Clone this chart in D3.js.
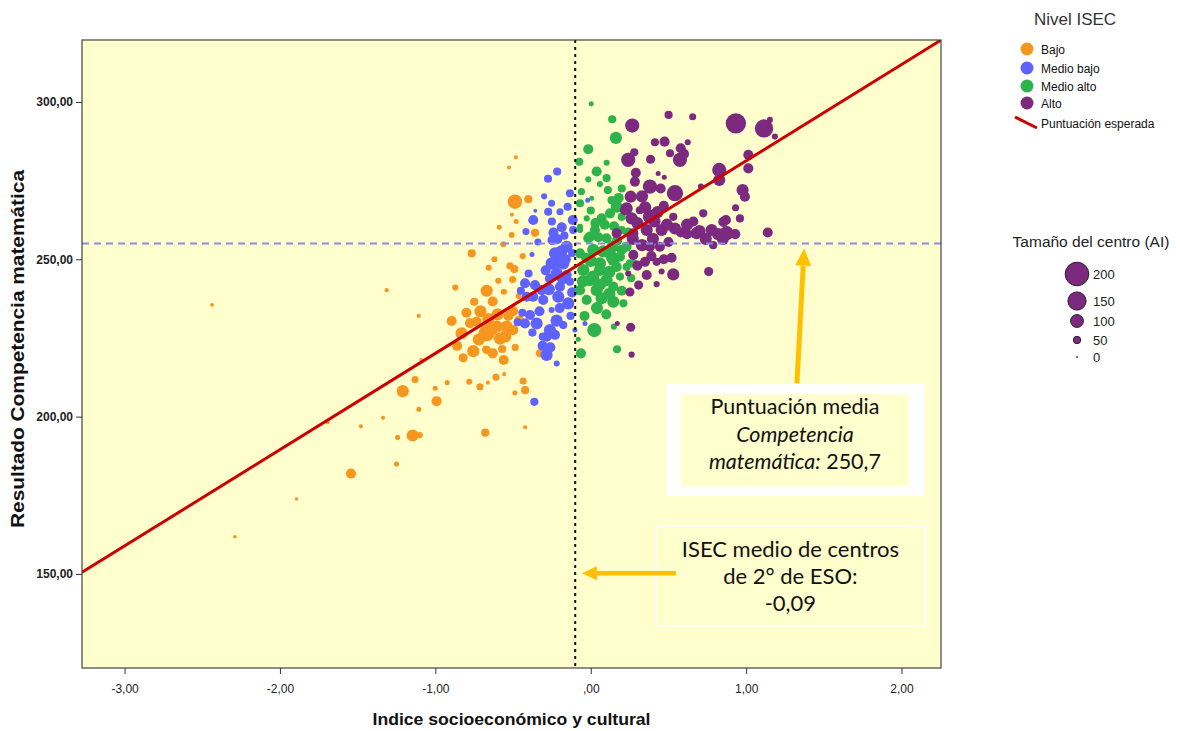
<!DOCTYPE html>
<html><head><meta charset="utf-8">
<script src="https://cdn.jsdelivr.net/npm/d3@7"></script>
<style>
html,body{margin:0;padding:0;background:#fff;}
svg{display:block;font-family:"Liberation Sans",Arial,sans-serif;}
</style></head>
<body><svg id="chart" width="1180" height="731"></svg>
<script>
// ---- data ----
const levels = ["Bajo", "Medio bajo", "Medio alto", "Alto"];
const levelColors = ["#F7961F", "#5E62FF", "#2EB24C", "#7B2A7F"];

// [ISEC, score, centre size (AI)]
const bajo = [
 [-2.437,235.5,15],[-1.313,240.2,20],[-1.107,232.0,20],[-0.872,241.0,38],[-0.766,251.9,57],
 [-0.482,282.4,19],[-0.526,279.2,19],[-0.488,268.3,115],[-0.402,269.1,57],[-0.507,264.2,19],
 [-2.29,161.8,15],[-1.893,173.8,15],[-1.543,181.9,75],[-1.693,198.2,19],[-1.479,196.9,19],
 [-1.337,199.6,19],[-1.25,184.9,28],[-1.243,193.4,28],[-1.146,194.0,94],[-1.10,194.1,38],
 [-1.21,208.1,94],[-1.131,211.8,47],[-1.106,202.3,28],[-1.001,209.0,28],[-0.992,204.9,75],
 [-0.924,210.8,28],[-0.782,211.1,38],[-0.713,209.5,47],[-0.662,210.8,19],[-0.61,212.5,47],
 [-0.557,213.5,19],[-0.488,207.6,28],[-0.435,211.3,47],[-0.422,208.4,57],[-0.679,194.9,57],
 [-0.422,196.6,19],[-0.821,218.7,66],[-0.756,220.8,94],[-0.676,221.4,47],[-0.631,220.1,75],
 [-0.56,218.0,75],[-0.486,222.0,47],[-0.327,220.1,57],[-0.589,260.2,28],[-0.509,257.7,38],
 [-0.359,258.4,57],[-0.563,254.8,38],[-0.438,251.0,38],[-0.657,247.3,38],[-0.52,247.9,47],
 [-0.492,246.9,57],[-0.595,243.2,38],[-0.503,243.6,47],[-0.67,240.0,94],[-0.631,236.6,75],
 [-0.559,239.7,38],[-0.464,238.3,38],[-0.895,230.4,75],[-0.777,229.7,75],[-0.734,230.2,75],
 [-0.67,226.5,132],[-0.831,226.5,94],[-0.605,228.6,94],[-0.541,228.6,94],[-0.499,227.5,75],
 [-0.584,224.8,94],[-0.67,221.2,57],[-0.627,220.1,57],[-0.488,207.4,19],[-1.09,218.0,19],
 [-0.72,224.5,94],[-0.60,232.5,94],[-0.53,232.0,75],[-0.80,233.0,75],[-0.66,231.0,94],
 [-0.46,230.5,75],[-0.57,221.5,57],[-0.75,236.5,57],[-0.48,262.0,28],[-0.62,250.0,38],
 [-0.71,233.5,94],[-0.64,228.0,113],[-0.55,225.5,94],[-0.86,222.5,75],[-0.50,233.5,75]
];
const medioBajo = [
 [-0.216,277.9,57],[-0.275,275.6,57],[-0.134,271.0,57],[-0.252,267.8,47],[-0.274,265.1,57],
 [-0.198,265.1,47],[-0.149,266.7,57],[-0.357,265.4,19],[-0.37,262.5,75],[-0.417,258.8,47],
 [-0.187,260.2,75],[-0.116,262.5,75],[-0.113,259.3,57],[-0.378,251.5,28],[-0.216,256.4,75],
 [-0.155,254.0,94],[-0.23,251.9,94],[-0.252,248.7,94],[-0.177,248.7,94],[-0.219,245.5,94],
 [-0.155,245.0,75],[-0.263,243.9,75],[-0.423,242.4,75],[-0.359,241.8,75],[-0.316,240.2,75],
 [-0.198,241.3,75],[-0.134,242.9,57],[-0.412,238.1,75],[-0.306,237.1,75],[-0.209,238.1,94],
 [-0.145,236.0,94],[-0.252,233.9,38],[-0.391,232.3,75],[-0.423,229.6,75],[-0.348,229.6,94],
 [-0.263,227.5,94],[-0.177,229.1,57],[-0.284,225.4,75],[-0.376,226.7,57],[-0.284,219.6,94],
 [-0.219,216.9,38],[-0.102,227.5,28],[-0.037,229.6,28],[-0.02,268.8,28],[-0.246,256.1,75],
 [-0.37,238.1,75],[-0.363,204.7,57],[-0.309,225.4,57],[-0.37,226.6,38],
 [-0.19,252.5,94],[-0.24,258.5,75],[-0.16,250.0,75],[-0.29,246.5,75],[-0.20,234.5,75],
 [-0.12,239.5,75],[-0.33,233.5,75],[-0.44,233.0,57],[-0.22,230.5,94],[-0.13,232.0,57],
 [-0.31,222.5,75],[-0.26,222.0,75],[-0.40,245.5,57],[-0.17,257.5,57],[-0.12,252.0,57],
 [-0.25,262.0,57],[-0.30,270.0,38],[-0.34,255.5,47],[-0.45,240.0,57],[-0.47,230.0,57],
 [-0.21,249.0,94],[-0.27,240.5,94],[-0.18,244.0,94],[-0.23,226.0,75]
];
const medioAlto = [
 [0.003,299.4,28],[0.138,294.5,57],[0.162,288.6,94],[-0.016,285.0,75],[-0.074,281.0,57],
 [0.102,280.7,38],[0.038,277.9,75],[-0.016,275.4,38],[0.102,275.8,57],[0.059,273.9,38],
 [-0.069,267.8,57],[0.006,269.4,28],[0.134,268.8,57],[0.167,266.7,94],[0.124,264.6,75],
 [0.07,263.0,75],[-0.026,263.0,38],[-0.069,260.3,38],[0.027,259.3,75],[-0.016,256.7,75],
 [0.102,256.7,75],[0.199,259.3,57],[0.231,254.0,75],[-0.069,251.9,75],[0.016,253.0,94],
 [0.134,250.8,94],[0.059,248.7,94],[-0.048,246.6,94],[0.167,247.6,75],[0.274,248.7,57],
 [-0.005,243.4,94],[0.102,243.4,94],[0.188,244.5,57],[-0.069,240.2,75],[0.038,240.2,94],
 [0.145,241.3,75],[-0.026,237.1,75],[0.07,237.6,94],[0.145,236.5,94],[0.023,227.5,113],
 [0.149,228.6,38],[0.169,221.4,57],[-0.063,220.1,75],[-0.08,224.6,28],[0.199,263.5,57],
 [0.059,246.6,94],[0.145,249.8,94],[0.199,253.0,75],[0.231,247.6,57],[-0.005,257.2,75],
 [0.188,250.8,75],[0.252,248.7,57],[0.016,244.5,94],[-0.069,259.3,38],
 [0.08,252.5,94],[0.0,249.5,94],[0.12,246.0,94],[0.20,240.0,75],[0.04,234.5,94],
 [0.10,232.5,75],[-0.04,232.0,75],[0.17,256.0,75],[0.05,257.0,75],[0.09,261.0,75],
 [0.18,269.5,75],[0.11,272.0,57],[0.20,272.5,57],[-0.06,271.5,47],[0.24,258.5,75],
 [0.15,260.5,75],[-0.03,250.5,75],[0.21,236.0,57],[0.26,244.0,57],[0.0,265.5,57],
 [0.06,242.0,94],[0.12,239.0,94],[0.03,261.5,75],[0.14,254.0,94],[-0.05,243.0,94]
];
const alto = [
 [0.267,292.5,113],[0.501,295.9,57],[0.656,295.3,47],[0.934,293.2,170],[1.115,291.6,151],
 [1.153,294.3,38],[1.185,289.0,38],[0.413,287.2,57],[0.475,287.4,75],[0.624,287.2,38],
 [0.51,283.7,57],[0.579,285.3,75],[0.574,281.6,113],[0.241,281.6,113],[0.385,281.8,66],
 [0.434,277.3,28],[0.473,276.1,28],[0.284,274.7,75],[0.381,273.1,113],[0.542,271.0,132],
 [0.257,269.9,94],[0.827,278.4,113],[0.827,275.2,94],[1.014,283.2,75],[1.014,278.9,75],
 [0.977,272.0,94],[0.992,269.9,75],[0.932,266.4,47],[0.709,273.1,38],[0.22,265.6,75],
 [0.316,265.6,57],[0.263,263.0,94],[0.381,263.5,113],[0.456,259.3,94],[0.531,263.5,57],
 [0.542,259.8,94],[0.36,259.3,94],[0.274,258.3,75],[0.724,264.6,57],[0.681,258.3,94],
 [0.778,259.3,94],[0.853,261.9,75],[0.874,258.3,113],[0.788,254.5,57],[1.139,258.5,75],
 [0.381,254.0,75],[0.445,254.0,75],[0.274,251.4,75],[0.349,249.2,75],[0.424,249.2,57],
 [0.241,245.5,38],[0.456,246.1,38],[0.531,245.2,94],[0.759,246.1,66],[0.308,241.8,66],
 [0.252,239.6,66],[0.424,242.1,38],[0.231,266.2,94],[0.171,229.6,28],[0.257,228.4,66],
 [0.263,219.7,38],[0.167,258.3,75],[0.62,258.0,75],
 [0.33,270.0,94],[0.30,261.5,94],[0.41,262.0,94],[0.47,267.0,75],[0.40,256.5,94],
 [0.50,255.5,75],[0.33,254.5,94],[0.29,277.5,75],[0.62,261.0,94],[0.70,259.0,94],
 [0.82,258.0,94],[0.93,258.0,75],[0.36,245.0,75],[0.47,250.0,75],[0.58,258.5,75],
 [0.45,272.5,75],[0.87,262.5,75],[0.96,263.0,57],[0.28,284.0,57],[0.60,283.5,75],
 [0.35,266.5,94],[0.43,265.0,94],[0.39,251.0,75],[0.30,248.0,75],[0.52,250.5,75],
 [0.27,256.5,94],[0.49,261.0,94],[0.74,256.5,94],[0.66,262.0,75],[0.85,256.5,94]
];
const seriesData = [bajo, medioBajo, medioAlto, alto];

const xTicks = [-3, -2, -1, 0, 1, 2];
const xTickLabels = ["-3,00", "-2,00", "-1,00", ",00", "1,00", "2,00"];
const yTicks = [150, 200, 250, 300];
const yTickLabels = ["150,00", "200,00", "250,00", "300,00"];

const fitIntercept = 250.7, fitSlope = 30.6;   // Puntuación esperada
const meanScoreLine = 255;                      // dashed reference
const meanIsecLine = -0.1;                      // dotted reference
const sizeLegend = [200, 150, 100, 50, 0];
const sizeLegendLabels = ["200", "150", "100", "50", "0"];

// ---- chart ----
const svg = d3.select("#chart");
const L = 82, R = 941, T = 40, B = 668;
const x = d3.scaleLinear().domain([-3.274, 2.254]).range([L, R]);
const y = d3.scaleLinear().domain([120.1, 319.7]).range([B, T]);
const r = d3.scaleLinear().domain([0, 200]).range([1, 11.8]);

svg.append("rect").attr("x", L).attr("y", T).attr("width", R - L).attr("height", B - T)
  .attr("fill", "#FFFECC");

svg.append("defs").append("clipPath").attr("id", "clip")
  .append("rect").attr("x", L).attr("y", T).attr("width", R - L).attr("height", B - T);

const plot = svg.append("g").attr("clip-path", "url(#clip)");

seriesData.forEach((arr, i) => {
  plot.append("g").selectAll("circle").data(arr).join("circle")
    .attr("cx", d => x(d[0])).attr("cy", d => y(d[1])).attr("r", d => r(d[2]))
    .attr("fill", levelColors[i]);
});

// reference lines
plot.append("line").attr("x1", L).attr("x2", R)
  .attr("y1", y(meanScoreLine)).attr("y2", y(meanScoreLine))
  .attr("stroke", "#8A8AF0").attr("stroke-width", 2).attr("stroke-dasharray", "7,5");
plot.append("line").attr("x1", x(meanIsecLine)).attr("x2", x(meanIsecLine))
  .attr("y1", T).attr("y2", B)
  .attr("stroke", "#111").attr("stroke-width", 2).attr("stroke-dasharray", "3,4");

const xd = x.domain();
plot.append("line")
  .attr("x1", x(xd[0])).attr("y1", y(fitIntercept + fitSlope * xd[0]))
  .attr("x2", x(xd[1])).attr("y2", y(fitIntercept + fitSlope * xd[1]))
  .attr("stroke", "#CC0000").attr("stroke-width", 3);

// frame
svg.append("rect").attr("x", L).attr("y", T).attr("width", R - L).attr("height", B - T)
  .attr("fill", "none").attr("stroke", "#444").attr("stroke-width", 1.2);

// axes
const xAxis = d3.axisBottom(x).tickValues(xTicks).tickSize(6).tickPadding(10)
  .tickFormat((d, i) => xTickLabels[i]);
const gx = svg.append("g").attr("transform", `translate(0,${B})`).call(xAxis);
gx.select(".domain").remove();
gx.selectAll("text").attr("font-size", 12).attr("fill", "#222")
  .attr("font-family", "'Liberation Sans',Arial,sans-serif");
gx.selectAll("line").attr("stroke", "#333");

const yAxis = d3.axisLeft(y).tickValues(yTicks).tickSize(6).tickPadding(3)
  .tickFormat((d, i) => yTickLabels[i]);
const gy = svg.append("g").attr("transform", `translate(${L},0)`).call(yAxis);
gy.select(".domain").remove();
gy.selectAll("text").attr("font-size", 12).attr("font-weight", "bold").attr("fill", "#222")
  .attr("font-family", "'Liberation Sans',Arial,sans-serif");
gy.selectAll("line").attr("stroke", "#333");

svg.append("text").attr("x", (L + R) / 2).attr("y", 725).attr("text-anchor", "middle")
  .attr("font-size", 17).attr("font-weight", "bold").attr("fill", "#111")
  .attr("textLength", 278).attr("lengthAdjust", "spacingAndGlyphs")
  .text("Indice socioeconómico y cultural");
svg.append("text").attr("transform", `translate(24,${(T + B) / 2 - 5}) rotate(-90)`)
  .attr("text-anchor", "middle").attr("font-size", 18.5).attr("font-weight", "bold").attr("fill", "#111")
  .attr("textLength", 358).attr("lengthAdjust", "spacingAndGlyphs")
  .text("Resultado Competencia matemática");

// annotations (positioned in data space)
const annoFont = "Lato,'Open Sans',sans-serif";
const arrowColor = "#FFC000";
// box 1
svg.append("rect").attr("x", x(0.484)).attr("y", y(210.3))
  .attr("width", x(2.151) - x(0.484)).attr("height", y(174.7) - y(210.3)).attr("fill", "#fff");
svg.append("rect").attr("x", x(0.58)).attr("y", y(207.2))
  .attr("width", x(2.047) - x(0.58)).attr("height", y(177.9) - y(207.2)).attr("fill", "#FFFECC");
const b1x = x(1.314);
const t1 = svg.append("text").attr("text-anchor", "middle").attr("font-family", annoFont)
  .attr("font-size", 21.5).attr("fill", "#111");
t1.append("tspan").attr("x", b1x).attr("y", 414).text("Puntuación media");
t1.append("tspan").attr("x", b1x).attr("y", 442).attr("font-style", "italic").text("Competencia");
const l3 = t1.append("tspan").attr("x", b1x).attr("y", 469);
l3.append("tspan").attr("font-style", "italic").text("matemática:");
l3.append("tspan").text(" 250,7");

// box 2
svg.append("rect").attr("x", x(0.42)).attr("y", y(165.2))
  .attr("width", x(2.151) - x(0.42)).attr("height", y(133.4) - y(165.2))
  .attr("fill", "none").attr("stroke", "#fff").attr("stroke-width", 1.5);
const b2x = x(1.285);
const t2 = svg.append("text").attr("text-anchor", "middle").attr("font-family", annoFont)
  .attr("font-size", 22).attr("fill", "#111");
t2.append("tspan").attr("x", b2x).attr("y", 557).text("ISEC medio de centros");
t2.append("tspan").attr("x", b2x).attr("y", 584).text("de 2° de ESO:");
t2.append("tspan").attr("x", b2x).attr("y", 611).text("-0,09");

// arrows
function arrow(x0, y0, x1, y1, w, hl, hw) {
  const dx = x1 - x0, dy = y1 - y0, len = Math.hypot(dx, dy);
  const ux = dx / len, uy = dy / len, nx = -uy, ny = ux;
  const bx = x1 - ux * hl, by = y1 - uy * hl;
  svg.append("line").attr("x1", x0).attr("y1", y0).attr("x2", bx).attr("y2", by)
    .attr("stroke", arrowColor).attr("stroke-width", w);
  svg.append("path").attr("d",
    `M${x1},${y1}L${bx + nx * hw},${by + ny * hw}L${bx - nx * hw},${by - ny * hw}Z`)
    .attr("fill", arrowColor);
}
arrow(x(1.327), y(210.6), x(1.373), y(253.4), 5, 17, 8);
arrow(x(0.548), y(150.2), x(-0.057), y(150.2), 4.5, 15, 7);

// legend: Nivel ISEC
svg.append("text").attr("x", 1075).attr("y", 25).attr("text-anchor", "middle")
  .attr("font-size", 17).attr("fill", "#333").text("Nivel ISEC");
const legY = [49, 68, 86, 103];
levels.forEach((lv, i) => {
  svg.append("circle").attr("cx", 1027).attr("cy", legY[i]).attr("r", 6.5).attr("fill", levelColors[i]);
  svg.append("text").attr("x", 1041).attr("y", legY[i] + 4.5).attr("font-size", 12).attr("fill", "#111").text(lv);
});
svg.append("line").attr("x1", 1015).attr("y1", 117).attr("x2", 1037).attr("y2", 128)
  .attr("stroke", "#CC0000").attr("stroke-width", 3);
svg.append("text").attr("x", 1041).attr("y", 128).attr("font-size", 12).attr("fill", "#111")
  .text("Puntuación esperada");

// legend: size
svg.append("text").attr("x", 1091).attr("y", 247).attr("text-anchor", "middle")
  .attr("font-size", 15.5).attr("fill", "#222").text("Tamaño del centro (AI)");
const sizeY = [274, 301, 321, 340, 357];
sizeLegend.forEach((s, i) => {
  svg.append("circle").attr("cx", 1077).attr("cy", sizeY[i]).attr("r", r(s))
    .attr("fill", levelColors[3]).attr("stroke", "#222").attr("stroke-width", s > 0 ? 1 : 0);
  svg.append("text").attr("x", 1093).attr("y", sizeY[i] + 4.5).attr("font-size", 13)
    .attr("fill", "#222").text(sizeLegendLabels[i]);
});
</script></body></html>
